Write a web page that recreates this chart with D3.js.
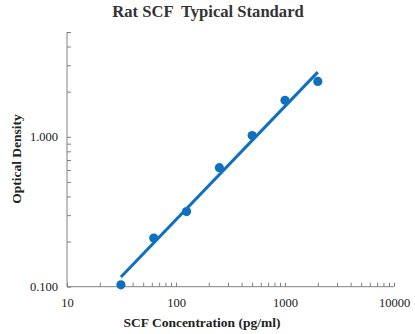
<!DOCTYPE html>
<html><head><meta charset="utf-8">
<script src="https://cdn.jsdelivr.net/npm/d3@7"></script>
<style>
html,body{margin:0;padding:0;background:#fff;}
svg{display:block;}
</style></head>
<body>
<script>
const title = "Rat SCF  Typical Standard";
const xTitle = "SCF Concentration (pg/ml)";
const yTitle = "Optical Density";
const concentrations = [31.25, 62.5, 125, 250, 500, 1000, 2000];
const odValues = [0.103, 0.211, 0.317, 0.622, 1.02, 1.75, 2.34];
const fitX = [31.25, 2000];
const fitY = [0.116, 2.70];
const xMajorTicks = [10, 100, 1000, 10000];
const yMajorTicks = [0.1, 1];
const yTickLabels = ["0.100", "1.000"];

const W = 415, H = 334;
const margin = {left: 67, right: 21, top: 32, bottom: 47.3};
const svg = d3.select("body").append("svg").attr("width", W).attr("height", H);

const x = d3.scaleLog().domain([10, 10000]).range([margin.left, W - margin.right]);
const y = d3.scaleLog().domain([0.1, 5]).range([H - margin.bottom, margin.top]);

const axisColor = "#808080";
const serif = "'Liberation Serif','Times New Roman',serif";
const blue = "#1070C0";

const xTicksAll = [];
for (let d = 10; d < 10000; d *= 10) for (let k = 1; k < 10; k++) xTicksAll.push(d * k);
xTicksAll.push(10000);
const yTicksAll = [];
for (let k = 1; k < 10; k++) yTicksAll.push(0.1 * k);
for (let k = 1; k <= 5; k++) yTicksAll.push(k);

const isMajorX = v => xMajorTicks.some(m => Math.abs(m - v) / m < 1e-6);

const xAxis = d3.axisBottom(x).tickValues(xTicksAll).tickSize(-4).tickPadding(11)
  .tickFormat(v => isMajorX(v) ? String(Math.round(v)) : "");
const gx = svg.append("g").attr("transform", `translate(0,${H - margin.bottom})`).call(xAxis);
gx.select(".domain").attr("stroke", axisColor).attr("d", `M${x.range()[0]},0H${x.range()[1]}`);
gx.selectAll(".tick line").attr("stroke", axisColor);
gx.selectAll(".tick text").attr("font-family", serif).attr("font-size", 12.5).attr("fill", "#222");

const yAxis = d3.axisLeft(y).tickValues(yTicksAll).tickSize(-4).tickPadding(9)
  .tickFormat(v => { const i = yMajorTicks.findIndex(m => Math.abs(m - v) / m < 1e-6); return i >= 0 ? yTickLabels[i] : ""; });
const gy = svg.append("g").attr("transform", `translate(${margin.left},0)`).call(yAxis);
gy.select(".domain").attr("stroke", axisColor).attr("d", `M0,${y.range()[0]}V${y.range()[1]}`);
gy.selectAll(".tick line").attr("stroke", axisColor);
gy.selectAll(".tick text").attr("font-family", serif).attr("font-size", 12.5).attr("fill", "#222");

const line = d3.line().x(d => x(d[0])).y(d => y(d[1]));
svg.append("path").datum(fitX.map((v, i) => [v, fitY[i]]))
  .attr("d", line).attr("stroke", blue).attr("stroke-width", 3).attr("fill", "none");

svg.append("g").selectAll("circle").data(concentrations).join("circle")
  .attr("cx", d => x(d)).attr("cy", (d, i) => y(odValues[i])).attr("r", 4.6).attr("fill", blue);

svg.append("text").attr("x", 208).attr("y", 17).attr("text-anchor", "middle")
  .attr("font-family", serif).attr("font-weight", "bold").attr("font-size", 16.6).attr("fill", "#333")
  .style("white-space", "pre").text(title);
svg.append("text").attr("x", 202).attr("y", 327).attr("text-anchor", "middle")
  .attr("font-family", serif).attr("font-weight", "bold").attr("font-size", 13.5).attr("fill", "#222").text(xTitle);
svg.append("text").attr("transform", "translate(21,159) rotate(-90)").attr("text-anchor", "middle")
  .attr("font-family", serif).attr("font-weight", "bold").attr("font-size", 13.5).attr("fill", "#222").text(yTitle);
</script>
</body></html>
